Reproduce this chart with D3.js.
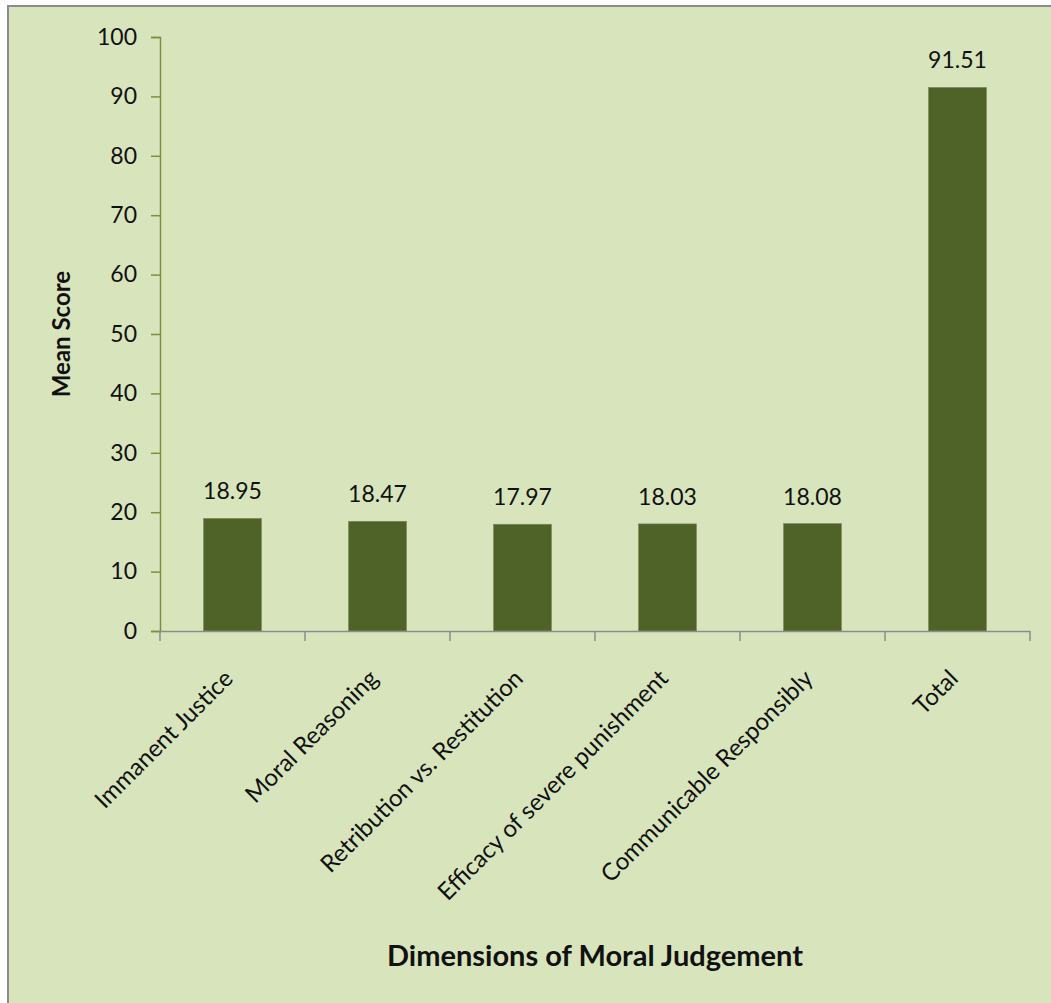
<!DOCTYPE html>
<html>
<head>
<meta charset="utf-8">
<script src="https://cdn.jsdelivr.net/npm/d3@7"></script>
<style>
  body { margin: 0; background: #fff; }
  text { font-family: Lato, "Open Sans", sans-serif; fill: #111; }
</style>
</head>
<body>
<svg id="chart" width="1051" height="1003"></svg>
<script>
var categories = ["Immanent Justice", "Moral Reasoning", "Retribution vs. Restitution",
                  "Efficacy of severe punishment", "Communicable Responsibly", "Total"];
var meanScores = [18.95, 18.47, 17.97, 18.03, 18.08, 91.51];
var yTicks = [0, 10, 20, 30, 40, 50, 60, 70, 80, 90, 100];

var svg = d3.select("#chart");

// chart frame
svg.append("rect")
    .attr("x", 8)
    .attr("y", 6)
    .attr("width", 1060)
    .attr("height", 1010)
    .style("fill", "#d8e4bc")
    .style("stroke", "#8c8c8c")
    .style("stroke-width", 2);

var xScale = d3.scaleBand()
    .domain(categories)
    .range([160, 1030])
    .padding(0);

var yScale = d3.scaleLinear()
    .domain([0, 100])
    .range([631, 37]);

var barWidth = xScale.bandwidth() * 0.4;

// bars
svg.selectAll(".bar")
    .data(categories)
    .enter()
    .append("rect")
    .attr("class", "bar")
    .attr("x", d => xScale(d) + (xScale.bandwidth() - barWidth) / 2)
    .attr("y", (d, i) => yScale(meanScores[i]))
    .attr("width", barWidth)
    .attr("height", (d, i) => yScale(0) - yScale(meanScores[i]))
    .style("fill", "#4f6228")
    .style("stroke", "#7a8a5a")
    .style("stroke-width", 0.6);

// value labels
svg.selectAll(".value")
    .data(categories)
    .enter()
    .append("text")
    .attr("class", "value")
    .attr("x", d => xScale(d) + xScale.bandwidth() / 2)
    .attr("y", (d, i) => yScale(meanScores[i]) - 19)
    .attr("text-anchor", "middle")
    .style("font-size", "23px")
    .text((d, i) => meanScores[i].toFixed(2));

// y axis
var yAxis = d3.axisLeft(yScale)
    .tickValues(yTicks)
    .tickSize(9)
    .tickPadding(14);

var yG = svg.append("g")
    .attr("transform", "translate(160, 0)")
    .call(yAxis);
yG.select(".domain").style("stroke", "#77933c").style("stroke-width", 1.5);
yG.selectAll(".tick line").style("stroke", "#77933c").style("stroke-width", 1.5);
yG.selectAll(".tick text")
    .style("font-size", "23px")
    .style("font-family", "Lato, 'Open Sans', sans-serif")
    .style("fill", "#111");

// x axis: ticks at category boundaries
var xAxis = d3.axisBottom(xScale)
    .tickSize(0)
    .tickFormat("");
var xG = svg.append("g")
    .attr("transform", "translate(0, 631)")
    .call(xAxis);
xG.select(".domain").style("stroke", "#8c8c8c").style("stroke-width", 1.5);

var boundaries = categories.map(d => xScale(d)).concat([xScale.range()[1]]);
xG.selectAll(".boundary")
    .data(boundaries)
    .enter()
    .append("line")
    .attr("class", "boundary")
    .attr("x1", d => d)
    .attr("x2", d => d)
    .attr("y1", 0)
    .attr("y2", 10)
    .style("stroke", "#8c8c8c")
    .style("stroke-width", 1.5);

// rotated category labels
svg.selectAll(".cat")
    .data(categories)
    .enter()
    .append("text")
    .attr("class", "cat")
    .attr("text-anchor", "end")
    .attr("transform", d => "translate(" + (xScale(d) + xScale.bandwidth() / 2 + 2) + ", 680) rotate(-45)")
    .style("font-size", "24px")
    .text(d => d);

// axis titles
svg.append("text")
    .attr("transform", "translate(70, 334) rotate(-90)")
    .attr("text-anchor", "middle")
    .style("font-size", "24px")
    .style("font-weight", "bold")
    .text("Mean Score");

svg.append("text")
    .attr("x", 595)
    .attr("y", 966)
    .attr("text-anchor", "middle")
    .style("font-size", "29px")
    .style("font-weight", "bold")
    .text("Dimensions of Moral Judgement");
</script>
</body>
</html>
